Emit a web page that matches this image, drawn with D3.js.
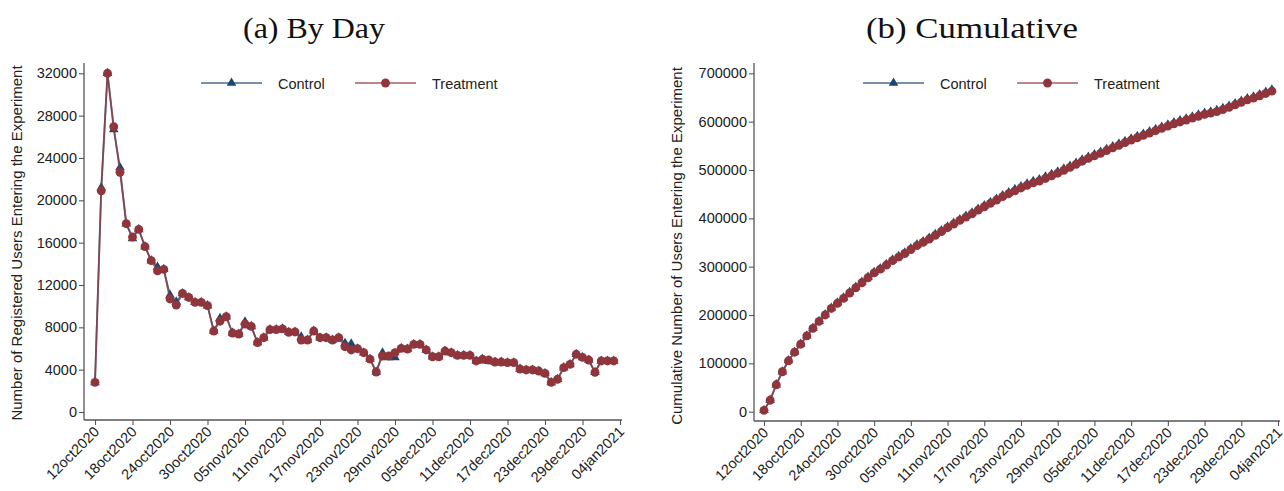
<!DOCTYPE html>
<html>
<head>
<meta charset="utf-8">
<script src="https://cdn.jsdelivr.net/npm/d3@7"></script>
<style>
  body { margin: 0; background: #fff; }
  svg { display: block; }
</style>
</head>
<body>
<svg id="chart" width="1284" height="491"></svg>
<script>
// x tick labels (Stata %td style)
const tickLabels = ["12oct2020", "18oct2020", "24oct2020", "30oct2020", "05nov2020", "11nov2020",
    "17nov2020", "23nov2020", "29nov2020", "05dec2020", "11dec2020", "17dec2020",
    "23dec2020", "29dec2020", "04jan2021"];
const firstDay = "12oct2020";
const lastDay = "03jan2021";

// registered users entering the experiment, per day
const treatment = [2800, 20900, 32000, 26950, 22640, 17790, 16530, 17250, 15620, 14300,
    13330, 13480, 10680, 10100, 11200, 10820, 10360, 10360, 10050, 7650,
    8580, 9000, 7460, 7370, 8310, 8090, 6560, 7020, 7780, 7780,
    7850, 7530, 7560, 6800, 6800, 7650, 7020, 7020, 6800, 7020,
    6170, 5860, 5980, 5600, 5000, 3780, 5290, 5290, 5600, 6010,
    5950, 6390, 6390, 5860, 5220, 5220, 5760, 5600, 5350, 5350,
    5350, 4820, 4980, 4910, 4720, 4720, 4660, 4660, 4060, 3970,
    3970, 3870, 3650, 2800, 3090, 4190, 4500, 5450, 5160, 4910,
    3750, 4820, 4820, 4820];
const control = [2800, 21200, 32000, 26700, 23100, 17790, 16400, 17250, 15620, 14300,
    13700, 13480, 11050, 10400, 11200, 10820, 10360, 10360, 10050, 7650,
    8850, 9000, 7460, 7370, 8530, 8090, 6560, 7020, 7780, 7780,
    7850, 7530, 7560, 7100, 6800, 7650, 7020, 7020, 6800, 7020,
    6500, 6450, 5980, 5600, 5000, 3780, 5600, 5150, 5150, 6010,
    5950, 6390, 6390, 5860, 5220, 5220, 5760, 5600, 5350, 5350,
    5350, 4820, 4980, 4800, 4720, 4720, 4660, 4660, 4060, 3970,
    3970, 3870, 3650, 2800, 3090, 4190, 4500, 5450, 5160, 4910,
    3750, 4820, 4820, 4820];

const byDayTicks = [0, 4000, 8000, 12000, 16000, 20000, 24000, 28000, 32000];
const cumTicks = [0, 100000, 200000, 300000, 400000, 500000, 600000, 700000];

const parseDay = d3.timeParse("%d%b%Y");
const formatDay = d => d3.timeFormat("%d%b%Y")(d).toLowerCase();
const days = d3.timeDay.range(parseDay(firstDay), d3.timeDay.offset(parseDay(lastDay), 1));
const tickDates = tickLabels.map(parseDay);

const COLORS = { control: "#1a476f", treatment: "#90353b" };
const AXIS = "#555";

var svg = d3.select("#chart");

function drawPanel(p) {
    let g = svg.append("g");

    let x = d3.scaleTime()
        .domain([tickDates[0], tickDates[tickDates.length - 1]])
        .range(p.xRange);
    let y = d3.scaleLinear()
        .domain([0, p.yTicks[p.yTicks.length - 1]])
        .range(p.yRange);

    // title (subcaption)
    svg.append("text")
        .attr("x", p.titleX)
        .attr("y", 38)
        .attr("text-anchor", "middle")
        .attr("font-family", "Liberation Serif, serif")
        .attr("font-size", 29)
        .attr("textLength", p.titleLen)
        .attr("lengthAdjust", "spacingAndGlyphs")
        .attr("fill", "#111")
        .text(p.title);

    // y axis
    let yAxis = g.append("g")
        .attr("transform", `translate(${p.axisX},0)`)
        .call(d3.axisLeft(y).tickValues(p.yTicks).tickSize(5).tickPadding(2).tickFormat(d3.format("d")));
    yAxis.select(".domain").remove();

    // x axis
    let xAxis = g.append("g")
        .attr("transform", `translate(0,${p.axisY})`)
        .call(d3.axisBottom(x).tickValues(tickDates).tickSize(5).tickFormat(formatDay));
    xAxis.select(".domain").remove();
    xAxis.selectAll("text")
        .attr("x", 0)
        .attr("y", 0)
        .attr("dy", "0.35em")
        .attr("text-anchor", "end")
        .attr("transform", "translate(1,9) rotate(-45)");

    g.selectAll(".tick line").attr("stroke", AXIS).attr("stroke-width", 1.1);
    g.selectAll(".tick text")
        .attr("font-family", "Liberation Sans, Arial, sans-serif")
        .attr("font-size", 14.5)
        .attr("fill", "#222");

    // axis lines
    g.append("line")
        .attr("x1", p.axisX).attr("x2", p.axisX)
        .attr("y1", p.axisY).attr("y2", 63)
        .attr("stroke", AXIS).attr("stroke-width", 1.3);
    g.append("line")
        .attr("x1", p.axisX).attr("x2", p.xEnd)
        .attr("y1", p.axisY).attr("y2", p.axisY)
        .attr("stroke", AXIS).attr("stroke-width", 1.3);

    // y title
    g.append("text")
        .attr("transform", `translate(${p.yTitleX},${p.yTitleY}) rotate(-90)`)
        .attr("text-anchor", "middle")
        .attr("font-family", "Liberation Sans, Arial, sans-serif")
        .attr("font-size", 15)
        .attr("fill", "#222")
        .text(p.yTitle);

    let line = d3.line()
        .x((d, i) => x(days[i]))
        .y(d => y(d));

    let series = [
        { name: "Control", values: p.control, color: COLORS.control, symbol: d3.symbolTriangle, size: 40 },
        { name: "Treatment", values: p.treatment, color: COLORS.treatment, symbol: d3.symbolCircle, size: 62 }
    ];

    series.forEach(s => {
        g.append("path")
            .datum(s.values)
            .attr("fill", "none")
            .attr("stroke", s.color)
            .attr("stroke-opacity", 0.75)
            .attr("stroke-width", 1.8)
            .attr("d", line);
        g.append("g")
            .selectAll("path")
            .data(s.values)
            .join("path")
            .attr("transform", (d, i) => `translate(${x(days[i])},${y(d)})`)
            .attr("d", d3.symbol(s.symbol, s.size))
            .attr("fill", s.color);
    });

    // legend
    let legend = g.append("g");
    series.forEach((s, i) => {
        let lx = p.legendX[i];
        let item = legend.append("g").attr("transform", `translate(${lx},83)`);
        item.append("line")
            .attr("x1", 0).attr("x2", 61)
            .attr("stroke", s.color)
            .attr("stroke-opacity", 0.6)
            .attr("stroke-width", 2.2);
        item.append("path")
            .attr("transform", "translate(30.5,0)")
            .attr("d", d3.symbol(s.symbol, s.size))
            .attr("fill", s.color);
        item.append("text")
            .attr("x", 77)
            .attr("y", 5.5)
            .attr("font-family", "Liberation Sans, Arial, sans-serif")
            .attr("font-size", 14.5)
            .attr("fill", "#222")
            .text(s.name);
    });
}

drawPanel({
    title: "(a) By Day", titleX: 314, titleLen: 142,
    xRange: [95, 620], yRange: [412, 73.3], axisX: 84, axisY: 420, xEnd: 622,
    yTicks: byDayTicks,
    yTitle: "Number of Registered Users Entering the Experiment", yTitleX: 22, yTitleY: 243,
    control: control, treatment: treatment,
    legendX: [201, 355]
});

drawPanel({
    title: "(b) Cumulative", titleX: 972, titleLen: 212,
    xRange: [764, 1278], yRange: [411.7, 73.3], axisX: 754, axisY: 421, xEnd: 1280,
    yTicks: cumTicks,
    yTitle: "Cumulative Number of Users Entering the Experiment", yTitleX: 682, yTitleY: 246,
    control: d3.cumsum(control), treatment: d3.cumsum(treatment),
    legendX: [863, 1017]
});
</script>
</body>
</html>
